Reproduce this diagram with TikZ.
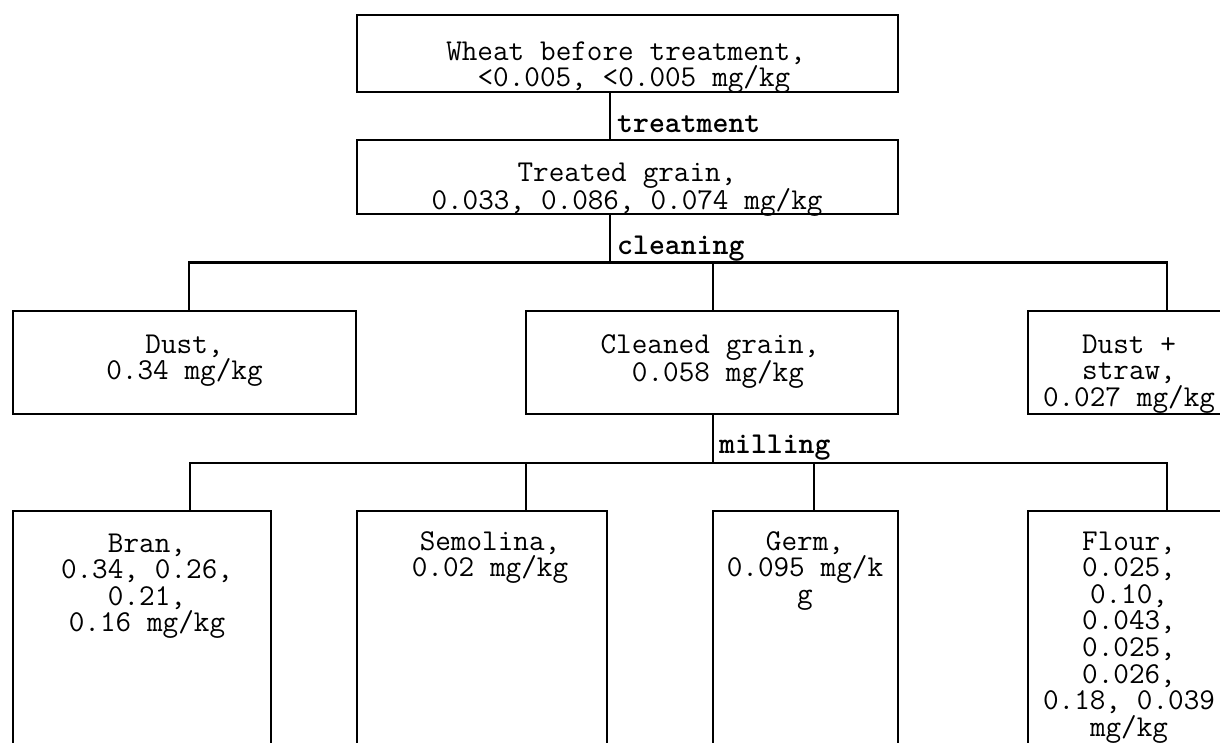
\documentclass[tikz,border=0pt]{standalone}
\usepackage{fontspec}
\newcommand{\diagfont}{\ttfamily\fontsize{30.3}{26.6}\selectfont\frenchspacing}
\newcommand{\monospaces}{\spaceskip=0.525em\relax\xspaceskip=0.525em\relax}
\begin{document}
\begin{tikzpicture}[x=1pt,y=-1pt,
  box/.style={draw, line width=2.2pt, rectangle, inner sep=0pt},
  txt/.style={anchor=base, inner sep=0pt, text width=420pt, align=flush center, font=\diagfont, execute at begin node=\monospaces},
  lbl/.style={anchor=base west, inner sep=0pt, font=\diagfont\bfseries},
  wire/.style={line width=2.2pt}]
\useasboundingbox (0,0) rectangle (1220,742);
\clip (0,0) rectangle (1220,742);
% boxes
\node[box, minimum width=541pt, minimum height=77pt] (top) at (627.5,53.5) {};
\node[box, minimum width=541pt, minimum height=74pt] (treated) at (627.5,177) {};
\node[box, minimum width=343pt, minimum height=103pt] (dust) at (184.5,362.5) {};
\node[box, minimum width=372pt, minimum height=103pt] (cleaned) at (712,362.5) {};
\node[box, minimum width=203pt, minimum height=103pt] (dstraw) at (1129.5,362.5) {};
\node[box, minimum width=258pt, minimum height=269pt] (bran) at (142,645.5) {};
\node[box, minimum width=250pt, minimum height=269pt] (semo) at (482,645.5) {};
\node[box, minimum width=185pt, minimum height=269pt] (germ) at (805.5,645.5) {};
\node[box, minimum width=203pt, minimum height=269pt] (flour) at (1129.5,645.5) {};
% texts
\node[txt] (ttop) at (626,60) {Wheat before treatment,\\\hspace*{0.525em}<0.005, <0.005 mg/kg};
\node[txt] (ttreated) at (627,181) {Treated grain,\\0.033, 0.086, 0.074 mg/kg};
\node[txt] (tdust) at (184.5,353) {Dust,\\0.34 mg/kg};
\node[txt] (tcleaned) at (710,353) {Cleaned grain,\\\hspace*{0.525em}0.058 mg/kg};
\node[txt] (tdstraw) at (1129,353) {Dust +\\straw,\\0.027 mg/kg};
\node[txt] (tbran) at (147,552) {Bran,\\0.34, 0.26,\\0.21,\\0.16 mg/kg};
\node[txt] (tsemo) at (490,550) {Semolina,\hspace*{0.525em}\\0.02 mg/kg};
\node[txt] (tgerm) at (805,550) {Germ,\\0.095 mg/k\\g};
\node[txt] (tflour) at (1129,550) {Flour,\\0.025,\\0.10,\hspace*{0.525em}\\0.043,\\0.025,\\0.026,\\0.18, 0.039\\mg/kg\hspace*{0.525em}};
% treatment
\coordinate (t1) at (610,0);
\draw[wire] (top.south -| t1) -- (treated.north -| t1);
\node[lbl] (ltreat) at (617,132) {treatment};
% cleaning
\coordinate (cb) at (610,262.5);
\coordinate (c1) at (189,262.5);
\coordinate (c2) at (713,262.5);
\coordinate (c3) at (1167,262.5);
\draw[wire] (treated.south -| cb) -- (cb);
\draw[wire] (dust.north -| c1) -- (c1) -- (c3) -- (dstraw.north -| c3);
\draw[wire] (cleaned.north -| c2) -- (c2);
\node[lbl] (lclean) at (617,254) {cleaning};
% milling
\coordinate (m0) at (713,462.7);
\coordinate (m1) at (190,462.7);
\coordinate (m2) at (526,462.7);
\coordinate (m3) at (814,462.7);
\coordinate (m4) at (1167,462.7);
\draw[wire] (cleaned.south -| m0) -- (m0);
\draw[wire] (bran.north -| m1) -- (m1) -- (m4) -- (flour.north -| m4);
\draw[wire] (semo.north -| m2) -- (m2);
\draw[wire] (germ.north -| m3) -- (m3);
\node[lbl] (lmill) at (719,453) {milling};
\end{tikzpicture}
\end{document}
